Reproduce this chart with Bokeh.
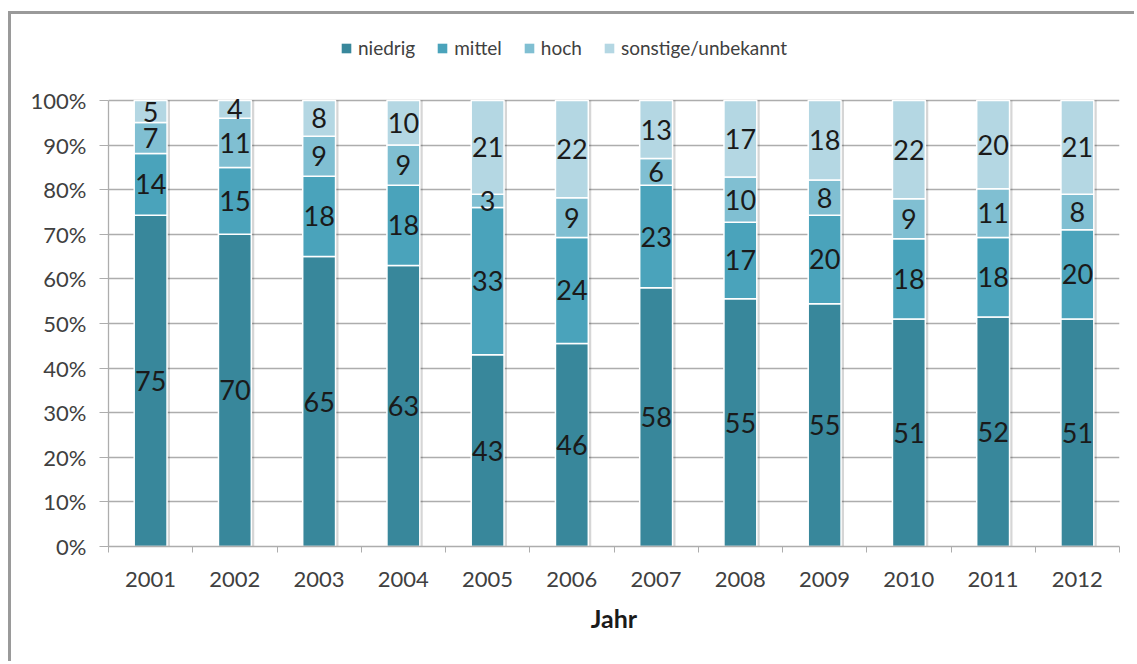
from bokeh.plotting import figure
from bokeh.models import (ColumnDataSource, FixedTicker, Legend, LegendItem,
                          Range1d, PrintfTickFormatter)
from bokeh.core.properties import value
from bokeh.embed import file_html
from bokeh.resources import INLINE

# Anteile je Jahr (Prozent, gerundet)
years = ["2001", "2002", "2003", "2004", "2005", "2006",
         "2007", "2008", "2009", "2010", "2011", "2012"]
niedrig = [75, 70, 65, 63, 43, 46, 58, 55, 55, 51, 52, 51]
mittel = [14, 15, 18, 18, 33, 24, 23, 17, 20, 18, 18, 20]
hoch = [7, 11, 9, 9, 3, 9, 6, 10, 8, 9, 11, 8]
sonstige = [5, 4, 8, 10, 21, 22, 13, 17, 18, 22, 20, 21]

series_names = ["niedrig", "mittel", "hoch", "sonstige/unbekannt"]
series_values = [niedrig, mittel, hoch, sonstige]
colors = ["#38879b", "#4aa3bb", "#80bfd2", "#b4d7e3"]

FONT = "Lato"
TEXT_GREY = "#404040"
GRID_GREY = "#adadad"

xpos = list(range(len(years)))
totals = [sum(v[i] for v in series_values) for i in xpos]

# the frame reaches above 100 % so the legend can sit inside it
p = figure(width=1126, height=650, output_backend="svg", toolbar_location=None,
           x_range=Range1d(-0.5, len(years) - 0.5), y_range=Range1d(0, 115.7),
           min_border_left=97, min_border_right=18,
           min_border_top=16, min_border_bottom=118)
p.styles = {"margin-left": "8px", "margin-top": "11px",
            "border-left": "3px solid #9a9a9a", "border-top": "3px solid #9a9a9a"}
p.outline_line_color = None
p.background_fill_color = "white"

bar_width = 0.39

# soft shadow to the right of each column
shadow_dx = 0.035
p.vbar(x=[x + shadow_dx for x in xpos], width=bar_width, bottom=0, top=100,
       fill_color="black", fill_alpha=0.16, line_color=None)

# stacked 100 % columns
bottoms = [0.0] * len(years)
legend_items = []
label_sources = []
for name, vals, col in zip(series_names, series_values, colors):
    share = [vals[i] / totals[i] * 100 for i in xpos]
    tops = [bottoms[i] + share[i] for i in xpos]
    mids = [(bottoms[i] + tops[i]) / 2 for i in xpos]
    src = ColumnDataSource(dict(x=xpos, bottom=list(bottoms), top=tops, mid=mids,
                                label=[str(v) for v in vals]))
    r = p.vbar(x="x", width=bar_width, bottom="bottom", top="top", source=src,
               fill_color=col, line_color="white", line_width=1.5)
    # plain square for the legend key
    key = p.vbar(x="x", width=bar_width, bottom="bottom", top="top", source=src,
                 fill_color=col, line_color=None, visible=False)
    legend_items.append(LegendItem(label=name, renderers=[key]))
    label_sources.append(src)
    bottoms = tops

# value labels on top of all segments
for src in label_sources:
    p.text(x="x", y="mid", text="label", source=src, text_align="center",
           text_baseline="middle", text_font=value(FONT), text_font_size="27px",
           text_color="#1a1a1a")

# axes
p.xgrid.grid_line_color = None
p.ygrid.grid_line_color = GRID_GREY
p.ygrid.grid_line_width = 1.3
p.ygrid.ticker = FixedTicker(ticks=list(range(0, 101, 10)))

p.xaxis.ticker = FixedTicker(ticks=xpos, minor_ticks=[i - 0.5 for i in range(len(years) + 1)])
p.xaxis.major_label_overrides = {i: y for i, y in zip(xpos, years)}
p.xaxis.major_tick_out = 0
p.xaxis.major_tick_in = 0
p.xaxis.minor_tick_out = 6
p.xaxis.minor_tick_in = 0
p.xaxis.minor_tick_line_color = GRID_GREY
p.xaxis.axis_line_color = GRID_GREY
p.xaxis.axis_line_width = 1.3
p.xaxis.major_label_standoff = 19
p.xaxis.major_label_text_font = FONT
p.xaxis.major_label_text_font_size = "22px"
p.xaxis.major_label_text_color = TEXT_GREY
p.xaxis.axis_label = "Jahr"
p.xaxis.axis_label_text_font = FONT
p.xaxis.axis_label_text_font_size = "25px"
p.xaxis.axis_label_text_font_style = "bold"
p.xaxis.axis_label_text_color = "#1a1a1a"
p.xaxis.axis_label_standoff = 13

p.yaxis.ticker = FixedTicker(ticks=list(range(0, 101, 10)), minor_ticks=[])
p.yaxis.bounds = (0, 100)
p.yaxis.formatter = PrintfTickFormatter(format="%d%%")
p.yaxis.major_tick_out = 9
p.yaxis.major_tick_in = 0
p.yaxis.major_tick_line_color = GRID_GREY
p.yaxis.axis_line_color = GRID_GREY
p.yaxis.axis_line_width = 1.3
p.yaxis.major_label_standoff = 13
p.yaxis.major_label_text_font = FONT
p.yaxis.major_label_text_font_size = "22px"
p.yaxis.major_label_text_color = TEXT_GREY

legend = Legend(items=legend_items, orientation="horizontal", location=(232, 487),
                glyph_width=12, glyph_height=12, label_standoff=6, spacing=21,
                label_text_font=FONT, label_text_font_size="19px",
                label_text_color=TEXT_GREY, label_height=18,
                border_line_color=None, background_fill_alpha=0,
                padding=0, margin=0)
p.add_layout(legend, "center")

open("out.html", "w").write(file_html(p, INLINE))
